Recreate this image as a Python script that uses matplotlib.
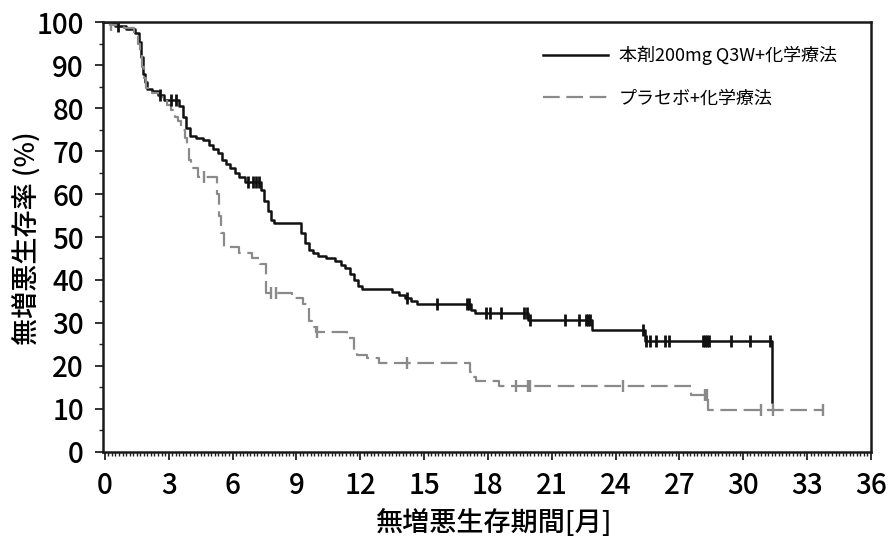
import numpy as np
import matplotlib
matplotlib.use("Agg")
import matplotlib.pyplot as plt
from matplotlib.ticker import MultipleLocator

plt.rcParams['font.family'] = ['Noto Sans CJK JP', 'DejaVu Sans']

# ---- data ----
label_drug = "本剤200mg Q3W+化学療法"
label_placebo = "プラセボ+化学療法"

drug_t = [0, 0.5, 1.0, 1.4, 1.6, 1.7, 1.8, 1.9, 2.0, 2.2, 2.5, 2.8, 3.5, 3.65, 3.8, 4.0,
          4.3, 4.6, 4.9, 5.1, 5.3, 5.5, 5.7, 5.9, 6.1, 6.3, 6.6, 7.35, 7.5, 7.65, 7.8, 7.95,
          9.2, 9.4, 9.6, 9.8, 10.0, 10.4, 10.8, 11.1, 11.3, 11.5, 11.7, 11.9, 12.1, 13.5,
          13.8, 14.1, 14.4, 14.65, 17.2, 17.4, 19.9, 22.9, 25.4, 31.35]
drug_s = [100, 99.2, 98.5, 97.4, 95.5, 92, 88, 86, 84.5, 84, 83, 82, 80.5, 78, 75.5, 73.5,
          73, 72.5, 71.5, 70.5, 69.5, 68, 67, 66, 65, 64, 62.8, 61, 58.5, 56, 54, 53.2,
          51, 48.5, 47, 46.2, 45.5, 45, 44.3, 43.6, 42.8, 41.5, 40, 38.5, 37.8, 37.2,
          36.5, 35.8, 35, 34.3, 33, 32.3, 30.6, 28.3, 25.9, 11.5]
drug_cens = [0.6, 2.6, 3.1, 3.35, 6.75, 6.95, 7.1, 7.25, 14.2, 15.6, 17.0, 17.1, 17.9, 18.1,
             18.6, 19.7, 19.85, 20.0, 21.6, 22.3, 22.6, 22.7, 22.8, 25.3, 25.45, 25.6, 25.9,
             26.3, 26.5, 28.1, 28.2, 28.3, 28.4, 29.4, 30.3, 31.25]

plac_t = [0, 0.25, 0.9, 1.35, 1.55, 1.65, 1.75, 1.85, 1.95, 2.2, 2.6, 2.9, 3.1, 3.3, 3.45,
          3.6, 3.75, 3.85, 3.95, 4.05, 4.4, 5.25, 5.35, 5.45, 5.6, 6.3, 6.9, 7.3, 7.55,
          8.8, 9.3, 9.6, 9.75, 9.9, 11.4, 11.7, 11.85, 12.3, 12.9, 17.15, 17.3, 17.45,
          18.5, 27.55, 28.35, 33.75]
plac_s = [100, 99.3, 98.6, 97.4, 95, 92.8, 89.5, 87, 84.6, 83.5, 82.5, 80.7, 79.5, 78, 77,
          75, 73, 70.5, 68, 66, 64, 60, 55, 51, 47.7, 46.2, 45, 43.8, 36.9,
          35.9, 34.5, 30.5, 29, 27.9, 26.4, 23.5, 22.5, 21.8, 20.7, 18.5, 17.5, 16.4,
          15.2, 13.2, 9.7, 9.7]
plac_cens = [0.3, 4.65, 7.8, 8.05, 9.95, 14.2, 19.3, 19.9, 20.0, 24.35, 28.2, 28.3,
             30.85, 31.4, 33.75]

x_ticks = list(range(0, 37, 3))
y_ticks = list(range(0, 101, 10))


def step_value(ts, ss, x):
    idx = np.searchsorted(np.asarray(ts), x, side='right') - 1
    return np.asarray(ss)[idx]


fig = plt.figure(figsize=(8.94, 5.43), dpi=100)
ax = fig.add_axes([0.1156, 0.1681, 0.8587, 0.7908])

black = '#111111'
grey = '#8a8a8a'

ax.step(drug_t, drug_s, where='post', color=black, lw=1.8, label=label_drug)
ax.step(plac_t, plac_s, where='post', color=grey, lw=1.6, dashes=(7.5, 3), label=label_placebo)

ax.plot(drug_cens, step_value(drug_t, drug_s, drug_cens), ls='none', marker='|',
        ms=8, mew=2.0, color=black)
ax.plot(plac_cens, step_value(plac_t, plac_s, plac_cens), ls='none', marker='|',
        ms=8, mew=1.7, color=grey)

ax.set_xlim(-0.07, 36)
ax.set_ylim(0, 100)
ax.set_xticks(x_ticks)
ax.set_yticks(y_ticks)
ax.xaxis.set_minor_locator(MultipleLocator(1 / 6))
ax.yaxis.set_minor_locator(MultipleLocator(5))
ax.tick_params(axis='both', which='major', labelsize=20, width=1.3, length=6, color='#222222')
ax.tick_params(axis='x', which='major', pad=8)
ax.tick_params(axis='y', which='major', pad=8)
ax.tick_params(axis='both', which='minor', width=1.0, length=3, color='#222222')
for lbl in ax.get_xticklabels() + ax.get_yticklabels():
    lbl.set_fontweight('medium')
for sp in ax.spines.values():
    sp.set_linewidth(1.8)
    sp.set_color('#1a1a1a')

ax.set_xlabel("無増悪生存期間[月]", fontsize=19.5, fontweight='medium')
ax.set_ylabel("無増悪生存率 (%)", fontsize=19.5, fontweight='medium')
ax.xaxis.set_label_coords(0.5075, -0.167)
ax.xaxis.label.set_va('center')
ax.yaxis.set_label_coords(-0.0995, 0.498)
ax.yaxis.label.set_va('center')

leg = ax.legend(loc='upper left', bbox_to_anchor=(543 / 894, 1 - 46 / 543),
                bbox_transform=fig.transFigure, frameon=False, fontsize=13,
                handlelength=3.6, handletextpad=0.6, labelspacing=1.35,
                borderpad=0, borderaxespad=0)

fig.savefig('out.png', dpi=100)
